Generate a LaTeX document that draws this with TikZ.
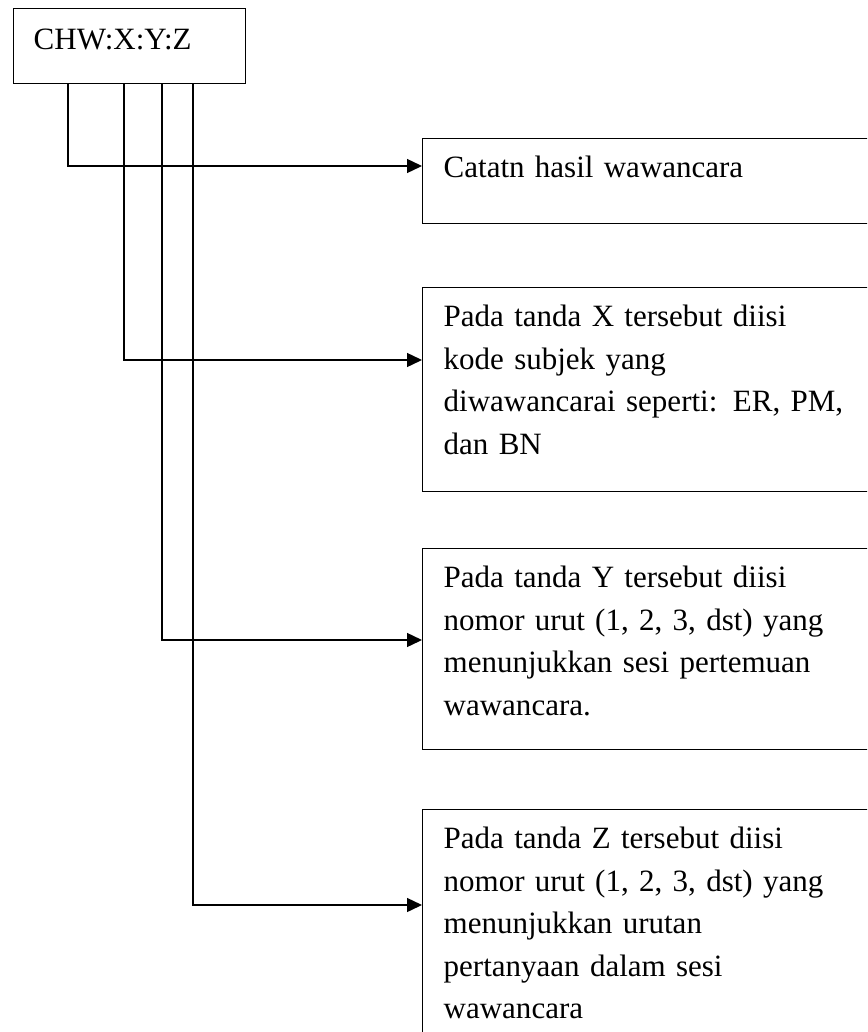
\documentclass[tikz,border=0pt]{standalone}
\usepackage{fontspec}
\setmainfont{Liberation Serif}
\usetikzlibrary{calc, arrows.meta}

\begin{document}
\begin{tikzpicture}[x=1pt, y=-1pt, line width=1.4pt,
    every node/.style={font=\fontsize{31}{42.5}\selectfont},
    note/.style={draw, anchor=north west, align=left, text width=436pt,
        inner xsep=21pt, inner ysep=17pt, text height=22pt},
    link/.style={-{Triangle[length=15pt, width=14pt]}}]
    \clip (0,0) rectangle (867,1032);

    \node[draw, anchor=north west, align=left, text width=192pt, inner xsep=20pt,
        inner ysep=17pt, text height=24pt, text depth=17pt] (code) at (13,8) {CHW:X:Y:Z};

    \node[note, text depth=29pt] (catatan) at (422,138) {Catatn hasil wawancara};
    \node[note, text depth=148pt] (subjek) at (422,287)
        {Pada tanda X tersebut diisi\\kode subjek yang\\diwawancarai seperti: ER, PM,\\dan BN};
    \node[note, text depth=145pt] (sesi) at (422,548)
        {Pada tanda Y tersebut diisi\\nomor urut (1, 2, 3, dst) yang\\menunjukkan sesi pertemuan\\wawancara.};
    \node[note, text depth=260pt] (urutan) at (422,809)
        {Pada tanda Z tersebut diisi\\nomor urut (1, 2, 3, dst) yang\\menunjukkan urutan\\pertanyaan dalam sesi\\wawancara};

    \coordinate (C) at ($(code.south west)+(55,0)$);
    \coordinate (X) at ($(code.south west)+(111,0)$);
    \coordinate (Y) at ($(code.south west)+(149,0)$);
    \coordinate (Z) at ($(code.south west)+(180,0)$);

    \draw[link] (C) |- ($(catatan.north west)+(0,28)$);
    \draw[link] (X) |- ($(subjek.north west)+(0,73)$);
    \draw[link] (Y) |- ($(sesi.north west)+(0,92)$);
    \draw[link] (Z) |- ($(urutan.north west)+(0,96)$);
\end{tikzpicture}
\end{document}
